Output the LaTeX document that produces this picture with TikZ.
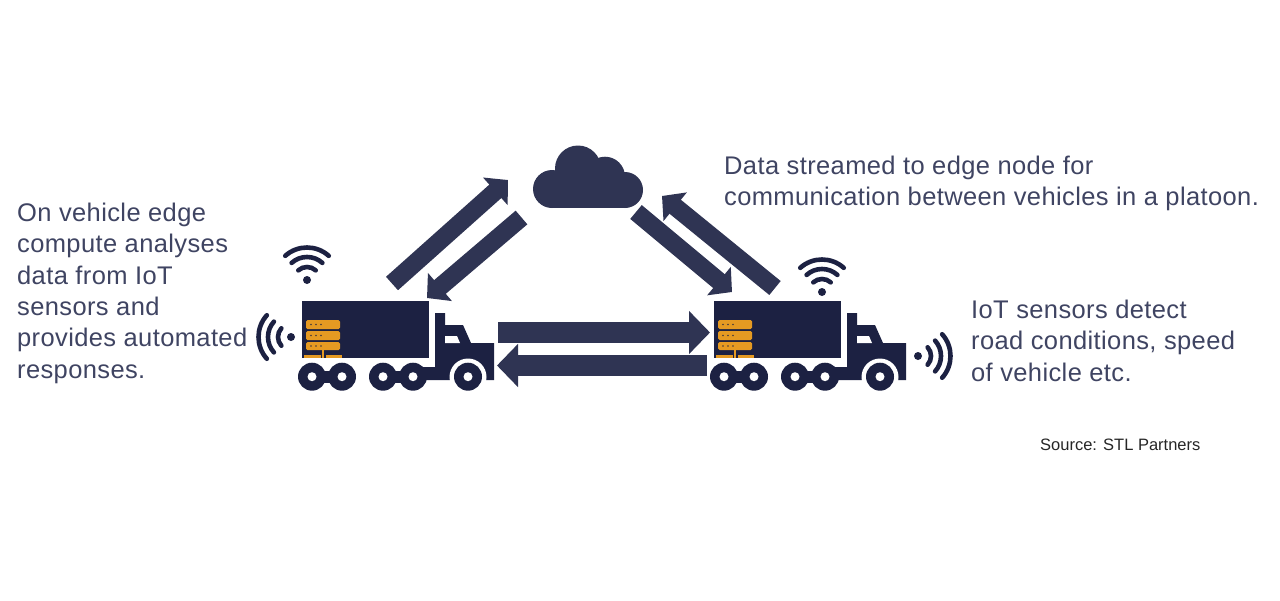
\documentclass[tikz,border=0pt]{standalone}
\usepackage{fontspec}
\setmainfont[LetterSpace=1.5]{Liberation Sans}
\newfontfamily\srcfont{Liberation Sans}
\usetikzlibrary{arrows.meta}
\definecolor{truckc}{HTML}{1C2142}
\definecolor{arrowc}{HTML}{2F3453}
\definecolor{textc}{HTML}{3F4462}
\definecolor{servc}{HTML}{E59A22}
\tikzset{
 blockarrow/.style={draw=arrowc,line width=18pt,-{Triangle[length=17pt,width=36pt,fill=arrowc]}},
 flatarrow/.style={draw=arrowc,line width=21pt,-{Triangle[length=21pt,width=42pt,fill=arrowc]}},
 wifiarc/.style={draw=truckc,line width=4.6pt,line cap=round},
 label/.style={anchor=north west,align=left,text=textc,font=\fontsize{25.5}{31.3}\selectfont,inner sep=0pt},
 serv/.style={fill=servc,rounded corners=1.5pt},
}
\newcommand{\wifi}[3]{%
 \fill[truckc] (#1,#2) circle (4);
 \foreach \r in {13,23,32.5}{
  \draw[wifiarc] ({#1+\r*cos(#3-42)},{#2-\r*sin(#3-42)}) arc[start angle={-(#3-42)},end angle={-(#3+42)},radius=\r];
 }
}
\newcommand{\truck}[1]{%
 \begin{scope}[xshift=#1pt]
 \fill[truckc] (302,301) rectangle (429,358);
 \fill[truckc] (435,313) -- (445,313) -- (445,325) -- (463,325) -- (471,343) -- (494,343) -- (494,380) -- (423,380) -- (410,380) -- (410,367) -- (435,367) -- cycle;
 \fill[white] (445,336) -- (457,336) -- (460,343) -- (445,343) -- cycle;
 \fill[white] (468,377) circle (18.5);
 \fill[white] (449,381) rectangle (487,392);
 \fill[truckc] (312,371) rectangle (342,383);
 \fill[truckc] (383,371) rectangle (413,383);
 \foreach \c in {312,342,383,413,468}{
   \fill[truckc] (\c,376.7) circle (14);
   \fill[white] (\c,376.7) circle (4.5);
 }
 \fill[serv] (306,320) rectangle (340,329);
 \fill[serv] (306,331) rectangle (340,340);
 \fill[serv] (306,342) rectangle (340,350);
 \fill[servc] (322,350) rectangle (324,358);
 \fill[servc] (304,355) rectangle (321,358);
 \fill[servc] (326,355) rectangle (342,358);
 \foreach \y in {324.5,335.5,346}{
  \foreach \x in {311,316,321}{ \fill[truckc!80!servc] (\x,\y) circle (0.9); }
 }
 \end{scope}
}
\begin{document}
\begin{tikzpicture}[x=1pt,y=-1pt]
\useasboundingbox (0,0) rectangle (1280,600);
\truck{0}
\truck{412}
\wifi{307}{280}{90}
\wifi{291}{337}{180}
\wifi{822}{292}{90}
\wifi{918}{356}{0}
% cloud
\fill[arrowc] (552,189) circle (19);
\fill[arrowc] (578,168.5) circle (23);
\fill[arrowc] (605,176.7) circle (20);
\fill[arrowc] (625,190) circle (18);
\fill[arrowc] (552,178) rectangle (625,208);
\coordinate (a1s) at (392,283.5); \coordinate (a1e) at (508,180);
\coordinate (a2s) at (521.5,217.5); \coordinate (a2e) at (427,298);
\coordinate (a3s) at (636,212); \coordinate (a3e) at (732,292);
\coordinate (a4s) at (775,288); \coordinate (a4e) at (662,196);
\coordinate (a5s) at (498,332.5); \coordinate (a5e) at (710,332.5);
\coordinate (a6s) at (707,365.5); \coordinate (a6e) at (497,365.5);
\foreach \s/\e in {a1s/a1e,a2s/a2e,a3s/a3e,a4s/a4e}{
 \draw[blockarrow] (\s) -- (\e);
}
\foreach \s/\e in {a5s/a5e,a6s/a6e}{
 \draw[flatarrow] (\s) -- (\e);
}
\node[label] (t1) at (17,203) {On vehicle edge\\compute analyses\\data from IoT\\sensors and\\provides automated\\responses.};
\node[label] (t2) at (724,156) {Data streamed to edge node for\\communication between vehicles in a platoon.};
\node[label] (t3) at (971,300) {IoT sensors detect\\road conditions, speed\\of vehicle etc.};
\node[anchor=north west,inner sep=0pt,text=black!85,font=\srcfont\fontsize{16.5}{20}\selectfont] (t4) at (1040,439) {Source: STL Partners};
\end{tikzpicture}
\end{document}
